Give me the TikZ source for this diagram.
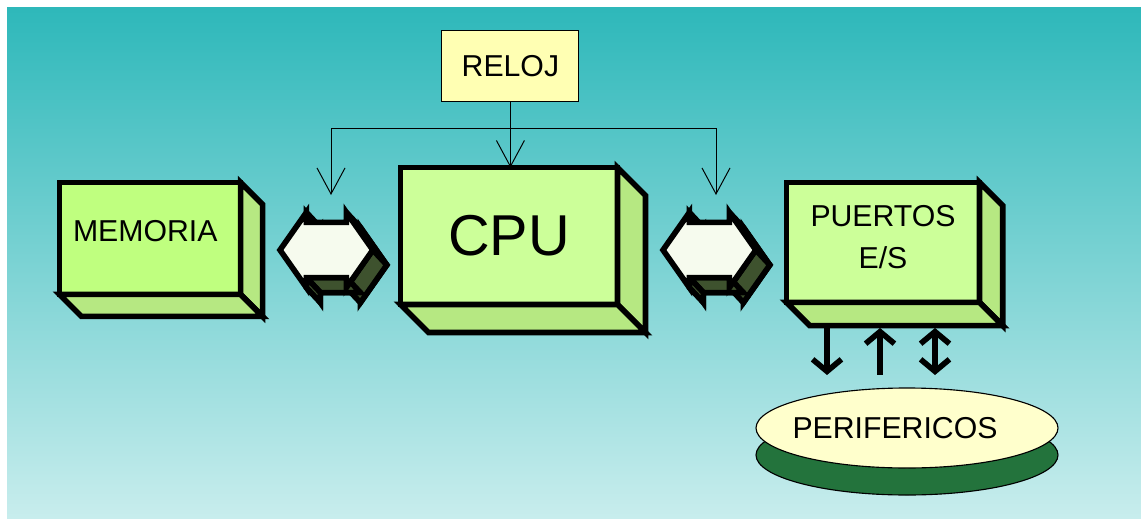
\documentclass[tikz,border=0pt]{standalone}
\usepackage{fontspec}
\setmainfont{Liberation Sans}
\usetikzlibrary{shapes.geometric, arrows.meta, positioning, calc}

\definecolor{bgtop}{RGB}{46,184,186}
\definecolor{bgbot}{RGB}{200,237,237}
\definecolor{blockgreen}{RGB}{204,255,153}
\definecolor{memgreen}{RGB}{191,255,127}
\definecolor{sidegreen}{RGB}{182,232,130}
\definecolor{clockyellow}{RGB}{255,255,179}
\definecolor{perifyellow}{RGB}{255,255,204}
\definecolor{perifdark}{RGB}{35,115,60}
\definecolor{busdark}{RGB}{62,82,46}
\definecolor{buswhite}{RGB}{246,251,238}

\begin{document}
\begin{tikzpicture}[
  block/.style={draw, line width=4pt, outer sep=0pt, fill=blockgreen, font=\fontsize{21.5}{30}\selectfont},
  blockside/.style={draw, line width=4pt, fill=sidegreen},
  busface/.style={draw, line width=4pt, fill=buswhite},
  busback/.style={draw, line width=4pt, fill=busdark},
  clk/.style={draw, line width=0.7pt},
  clkhead/.tip={Straight Barb[length=0.65cm, width=0.7cm]},
  iohead/.tip={Straight Barb[length=0.3cm, width=0.72cm]},
  io/.style={draw, line width=4pt}
]
\useasboundingbox (0,0) rectangle (28.525,12.95);
\fill[top color=bgtop, bottom color=bgbot] (0.175,0) rectangle (28.525,12.75);

% clock
\node[draw, line width=0.8pt, fill=clockyellow, minimum width=3.425cm, minimum height=1.775cm,
      font=\fontsize{21.5}{26}\selectfont] (reloj) at (12.76,11.29) {RELOJ};

% the three blocks (front faces)
\node[block, fill=memgreen, minimum width=4.525cm, minimum height=2.8cm,
      text width=3.85cm, inner xsep=0.34cm, align=left, text depth=0.38cm] (mem) at (3.75,6.99) {MEMORIA};
\node[block, minimum width=5.425cm, minimum height=3.425cm, font=\fontsize{41}{48}\selectfont] (cpu) at (12.725,7.05) {CPU};
\node[block, minimum width=4.825cm, minimum height=3.0cm, align=center, text depth=0.27cm] (puertos) at (22.075,6.89) {PUERTOS\\E/S};

% right and bottom faces of the blocks
\foreach \b/\d in {mem/0.55, cpu/0.7, puertos/0.58} {
  \draw[blockside] (\b.north east) -- ++(\d,-\d) -- ($(\b.south east)+(\d,-\d)$) -- (\b.south east) -- cycle;
  \draw[blockside] (\b.south west) -- ++(\d,-\d) -- ($(\b.south east)+(\d,-\d)$) -- (\b.south east) -- cycle;
}

% clock lines
\coordinate (clkL) at (8.275,8.075);
\coordinate (clkR) at (17.9,8.075);
\coordinate (clkbus) at (12.775,9.75);
\draw[clk, clkhead-clkhead] (clkL) -- (clkL |- clkbus) -- (clkR |- clkbus) -- (clkR);
\draw[clk, -clkhead] (reloj.south) -- (reloj.south |- cpu.north);

% buses between the blocks
\coordinate (membus) at (7.0,6.7);
\coordinate (iobus) at (16.575,6.7);
\foreach \b in {membus, iobus} {
  \begin{scope}[shift={(\b)}]
    % back of the arrow
    \draw[busback, shift={(0.35,-0.375)}] (0,0) -- (0.66,0.94) -- (0.66,0.69) -- (1.66,0.69) -- (1.66,0.94)
      -- (2.32,0) -- (1.66,-0.94) -- (1.66,-0.69) -- (0.66,-0.69) -- (0.66,-0.94) -- cycle;
    % sides seen from the front
    \draw[busback] (0.66,0.94) -- (0.66,0.69) -- (1.01,0.315) -- (1.01,0.565) -- cycle;
    \draw[busback] (1.66,0.94) -- (2.32,0) -- (2.67,-0.375) -- (2.01,0.565) -- cycle;
    \draw[busback] (2.32,0) -- (1.66,-0.94) -- (2.01,-1.315) -- (2.67,-0.375) -- cycle;
    \draw[busback] (1.66,-0.69) -- (0.66,-0.69) -- (1.01,-1.065) -- (2.01,-1.065) -- cycle;
    \draw[busback] (0.66,-0.69) -- (0.66,-0.94) -- (1.01,-1.315) -- (1.01,-1.065) -- cycle;
    % front
    \draw[busface] (0,0) -- (0.66,0.94) -- (0.66,0.69) -- (1.66,0.69) -- (1.66,0.94)
      -- (2.32,0) -- (1.66,-0.94) -- (1.66,-0.69) -- (0.66,-0.69) -- (0.66,-0.94) -- cycle;
  \end{scope}
}

% peripherals
\node[ellipse, draw, line width=0.8pt, fill=perifdark, minimum width=7.55cm, minimum height=2cm] (perif-base) at (22.675,1.575) {};
\node[ellipse, draw, line width=0.8pt, fill=perifyellow, minimum width=7.55cm, minimum height=2cm] (perif) at (22.675,2.25) {};
\node[font=\fontsize{21.5}{26}\selectfont] (perif-txt) at ([xshift=-0.3cm]perif.center) {PERIFERICOS};

% links between ports and peripherals
\coordinate (ioA) at (20.675,3.575);
\coordinate (ioB) at (22.0,3.575);
\coordinate (ioC) at (23.375,3.575);
\draw[io, -iohead] ($(puertos.south -| ioA)+(0,-0.62)$) -- (ioA);
\draw[io, iohead-] ($(puertos.south -| ioB)+(0,-0.64)$) -- (ioB);
\draw[io, iohead-iohead] ($(puertos.south -| ioC)+(0,-0.64)$) -- (ioC);
\end{tikzpicture}
\end{document}
